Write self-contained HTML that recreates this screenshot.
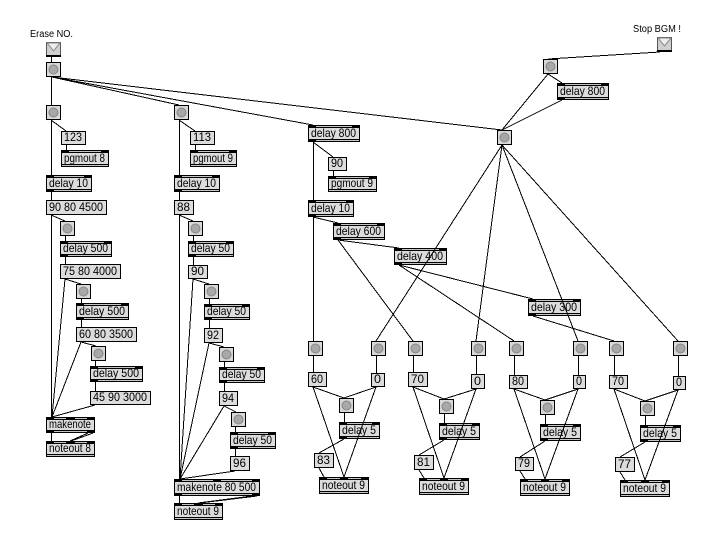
<!DOCTYPE html>
<html>
<head>
<meta charset="utf-8">
<style>
html,body{margin:0;padding:0;background:#fff;}
svg{display:block;}
.o{fill:#dcdcdc;stroke:#000;stroke-width:1;}
.k{fill:#000;}
.h{fill:#c4c4c4;}
.b{fill:#d8d8d8;stroke:#000;stroke-width:1;}
.c{fill:#a8a8a8;stroke:#858585;stroke-width:1;shape-rendering:auto;}
text{font-family:"Liberation Sans",sans-serif;font-size:12px;fill:#000;}
.ln line{stroke:#000;stroke-width:1;}
</style>
</head>
<body>
<svg width="723" height="543" viewBox="0 0 723 543" shape-rendering="crispEdges" xmlns="http://www.w3.org/2000/svg">
<rect x="0" y="0" width="723" height="543" fill="#fff"/>

<!-- labels -->
<text x="30" y="37" style="font-size:10px" textLength="43" lengthAdjust="spacingAndGlyphs">Erase NO.</text>
<text x="633" y="32" style="font-size:10px" textLength="48" lengthAdjust="spacingAndGlyphs">Stop BGM !</text>

<!-- buttons with triangle -->
<g>
<rect x="46.5" y="42.5" width="14" height="14" fill="#cfcfcf" stroke="#555"/>
<polygon points="47,43 60,43 53.5,51" fill="#eeeeee" stroke="#8a8a8a" shape-rendering="auto"/>
<rect class="k" x="46" y="55" width="15" height="2"/>
</g>
<g>
<rect x="657.5" y="37.5" width="14" height="14" fill="#cfcfcf" stroke="#555"/>
<polygon points="658,38 671,38 664.5,46" fill="#eeeeee" stroke="#8a8a8a" shape-rendering="auto"/>
<rect class="k" x="657" y="50" width="15" height="2"/>
</g>

<!-- objects -->
<rect class="o" x="61.5" y="150.5" width="47" height="16"/><rect class="k" x="61" y="150" width="48" height="3"/><rect class="h" x="69" y="151" width="32" height="1"/><rect class="k" x="61" y="164" width="48" height="3"/><rect class="h" x="62" y="165" width="46" height="1"/>
<text x="64" y="162" textLength="41" lengthAdjust="spacingAndGlyphs">pgmout 8</text>

<rect class="o" x="46.5" y="175.5" width="45" height="16"/><rect class="k" x="46" y="175" width="46" height="3"/><rect class="h" x="54" y="176" width="30" height="1"/><rect class="k" x="46" y="189" width="46" height="3"/><rect class="h" x="54" y="190" width="37" height="1"/>
<text x="49" y="187" textLength="39" lengthAdjust="spacingAndGlyphs">delay 10</text>

<rect class="o" x="60.5" y="241.5" width="51" height="15"/><rect class="k" x="60" y="241" width="52" height="3"/><rect class="h" x="68" y="242" width="36" height="1"/><rect class="k" x="60" y="254" width="52" height="3"/><rect class="h" x="68" y="255" width="43" height="1"/>
<text x="63" y="252" textLength="45" lengthAdjust="spacingAndGlyphs">delay 500</text>

<rect class="o" x="76.5" y="303.5" width="52" height="16"/><rect class="k" x="76" y="303" width="53" height="3"/><rect class="h" x="84" y="304" width="37" height="1"/><rect class="k" x="76" y="317" width="53" height="3"/><rect class="h" x="84" y="318" width="44" height="1"/>
<text x="79" y="315" textLength="46" lengthAdjust="spacingAndGlyphs">delay 500</text>

<rect class="o" x="90.5" y="366.5" width="52" height="15"/><rect class="k" x="90" y="366" width="53" height="3"/><rect class="h" x="98" y="367" width="37" height="1"/><rect class="k" x="90" y="379" width="53" height="3"/><rect class="h" x="98" y="380" width="44" height="1"/>
<text x="93" y="377" textLength="46" lengthAdjust="spacingAndGlyphs">delay 500</text>

<rect class="o" x="46.5" y="417.5" width="48" height="15"/><rect class="k" x="46" y="417" width="49" height="3"/><rect class="h" x="54" y="418" width="12" height="1"/><rect class="h" x="75" y="418" width="12" height="1"/><rect class="k" x="46" y="430" width="49" height="3"/><rect class="h" x="54" y="431" width="33" height="1"/>
<text x="49" y="428" textLength="42" lengthAdjust="spacingAndGlyphs">makenote</text>

<rect class="o" x="46.5" y="441.5" width="48" height="15"/><rect class="k" x="46" y="441" width="49" height="3"/><rect class="h" x="54" y="442" width="12" height="1"/><rect class="h" x="75" y="442" width="12" height="1"/><rect class="k" x="46" y="454" width="49" height="3"/><rect class="h" x="47" y="455" width="47" height="1"/>
<text x="49" y="452" textLength="42" lengthAdjust="spacingAndGlyphs">noteout 8</text>

<rect class="o" x="190.5" y="150.5" width="46" height="16"/><rect class="k" x="190" y="150" width="47" height="3"/><rect class="h" x="198" y="151" width="31" height="1"/><rect class="k" x="190" y="164" width="47" height="3"/><rect class="h" x="191" y="165" width="45" height="1"/>
<text x="193" y="162" textLength="40" lengthAdjust="spacingAndGlyphs">pgmout 9</text>

<rect class="o" x="174.5" y="175.5" width="45" height="16"/><rect class="k" x="174" y="175" width="46" height="3"/><rect class="h" x="182" y="176" width="30" height="1"/><rect class="k" x="174" y="189" width="46" height="3"/><rect class="h" x="182" y="190" width="37" height="1"/>
<text x="177" y="187" textLength="39" lengthAdjust="spacingAndGlyphs">delay 10</text>

<rect class="o" x="188.5" y="241.5" width="45" height="15"/><rect class="k" x="188" y="241" width="46" height="3"/><rect class="h" x="196" y="242" width="30" height="1"/><rect class="k" x="188" y="254" width="46" height="3"/><rect class="h" x="196" y="255" width="37" height="1"/>
<text x="191" y="252" textLength="39" lengthAdjust="spacingAndGlyphs">delay 50</text>

<rect class="o" x="204.5" y="304.5" width="45" height="15"/><rect class="k" x="204" y="304" width="46" height="3"/><rect class="h" x="212" y="305" width="30" height="1"/><rect class="k" x="204" y="317" width="46" height="3"/><rect class="h" x="212" y="318" width="37" height="1"/>
<text x="207" y="315" textLength="39" lengthAdjust="spacingAndGlyphs">delay 50</text>

<rect class="o" x="219.5" y="367.5" width="45" height="15"/><rect class="k" x="219" y="367" width="46" height="3"/><rect class="h" x="227" y="368" width="30" height="1"/><rect class="k" x="219" y="380" width="46" height="3"/><rect class="h" x="227" y="381" width="37" height="1"/>
<text x="222" y="378" textLength="39" lengthAdjust="spacingAndGlyphs">delay 50</text>

<rect class="o" x="230.5" y="432.5" width="45" height="16"/><rect class="k" x="230" y="432" width="46" height="3"/><rect class="h" x="238" y="433" width="30" height="1"/><rect class="k" x="230" y="446" width="46" height="3"/><rect class="h" x="238" y="447" width="37" height="1"/>
<text x="233" y="444" textLength="39" lengthAdjust="spacingAndGlyphs">delay 50</text>

<rect class="o" x="174.5" y="479.5" width="85" height="16"/><rect class="k" x="174" y="479" width="86" height="3"/><rect class="h" x="182" y="480" width="31" height="1"/><rect class="h" x="221" y="480" width="31" height="1"/><rect class="k" x="174" y="493" width="86" height="3"/><rect class="h" x="182" y="494" width="70" height="1"/>
<text x="177" y="491" textLength="79" lengthAdjust="spacingAndGlyphs">makenote 80 500</text>

<rect class="o" x="174.5" y="503.5" width="48" height="16"/><rect class="k" x="174" y="503" width="49" height="3"/><rect class="h" x="182" y="504" width="12" height="1"/><rect class="h" x="203" y="504" width="12" height="1"/><rect class="k" x="174" y="517" width="49" height="3"/><rect class="h" x="175" y="518" width="47" height="1"/>
<text x="177" y="515" textLength="42" lengthAdjust="spacingAndGlyphs">noteout 9</text>

<rect class="o" x="308.5" y="125.5" width="51" height="16"/><rect class="k" x="308" y="125" width="52" height="3"/><rect class="h" x="316" y="126" width="36" height="1"/><rect class="k" x="308" y="139" width="52" height="3"/><rect class="h" x="316" y="140" width="43" height="1"/>
<text x="311" y="137" textLength="45" lengthAdjust="spacingAndGlyphs">delay 800</text>

<rect class="o" x="328.5" y="176.5" width="48" height="15"/><rect class="k" x="328" y="176" width="49" height="3"/><rect class="h" x="336" y="177" width="33" height="1"/><rect class="k" x="328" y="189" width="49" height="3"/><rect class="h" x="329" y="190" width="47" height="1"/>
<text x="331" y="187" textLength="42" lengthAdjust="spacingAndGlyphs">pgmout 9</text>

<rect class="o" x="308.5" y="200.5" width="45" height="16"/><rect class="k" x="308" y="200" width="46" height="3"/><rect class="h" x="316" y="201" width="30" height="1"/><rect class="k" x="308" y="214" width="46" height="3"/><rect class="h" x="316" y="215" width="37" height="1"/>
<text x="311" y="212" textLength="39" lengthAdjust="spacingAndGlyphs">delay 10</text>

<rect class="o" x="333.5" y="223.5" width="51" height="16"/><rect class="k" x="333" y="223" width="52" height="3"/><rect class="h" x="341" y="224" width="36" height="1"/><rect class="k" x="333" y="237" width="52" height="3"/><rect class="h" x="341" y="238" width="43" height="1"/>
<text x="336" y="235" textLength="45" lengthAdjust="spacingAndGlyphs">delay 600</text>

<rect class="o" x="394.5" y="248.5" width="52" height="16"/><rect class="k" x="394" y="248" width="53" height="3"/><rect class="h" x="402" y="249" width="37" height="1"/><rect class="k" x="394" y="262" width="53" height="3"/><rect class="h" x="402" y="263" width="44" height="1"/>
<text x="397" y="260" textLength="46" lengthAdjust="spacingAndGlyphs">delay 400</text>

<rect class="o" x="528.5" y="299.5" width="52" height="16"/><rect class="k" x="528" y="299" width="53" height="3"/><rect class="h" x="536" y="300" width="37" height="1"/><rect class="k" x="528" y="313" width="53" height="3"/><rect class="h" x="536" y="314" width="44" height="1"/>
<text x="531" y="311" textLength="46" lengthAdjust="spacingAndGlyphs">delay 300</text>

<rect class="o" x="557.5" y="83.5" width="51" height="16"/><rect class="k" x="557" y="83" width="52" height="3"/><rect class="h" x="565" y="84" width="36" height="1"/><rect class="k" x="557" y="97" width="52" height="3"/><rect class="h" x="565" y="98" width="43" height="1"/>
<text x="560" y="95" textLength="45" lengthAdjust="spacingAndGlyphs">delay 800</text>

<!-- delay 5 x4 -->
<rect class="o" x="339.5" y="422.5" width="40" height="16"/><rect class="k" x="339" y="422" width="41" height="3"/><rect class="h" x="347" y="423" width="25" height="1"/><rect class="k" x="339" y="436" width="41" height="3"/><rect class="h" x="347" y="437" width="32" height="1"/>
<text x="342" y="434" textLength="34" lengthAdjust="spacingAndGlyphs">delay 5</text>
<rect class="o" x="439.5" y="423.5" width="40" height="16"/><rect class="k" x="439" y="423" width="41" height="3"/><rect class="h" x="447" y="424" width="25" height="1"/><rect class="k" x="439" y="437" width="41" height="3"/><rect class="h" x="447" y="438" width="32" height="1"/>
<text x="442" y="435" textLength="34" lengthAdjust="spacingAndGlyphs">delay 5</text>
<rect class="o" x="540.5" y="424.5" width="40" height="16"/><rect class="k" x="540" y="424" width="41" height="3"/><rect class="h" x="548" y="425" width="25" height="1"/><rect class="k" x="540" y="438" width="41" height="3"/><rect class="h" x="548" y="439" width="32" height="1"/>
<text x="543" y="436" textLength="34" lengthAdjust="spacingAndGlyphs">delay 5</text>
<rect class="o" x="640.5" y="425.5" width="40" height="16"/><rect class="k" x="640" y="425" width="41" height="3"/><rect class="h" x="648" y="426" width="25" height="1"/><rect class="k" x="640" y="439" width="41" height="3"/><rect class="h" x="648" y="440" width="32" height="1"/>
<text x="643" y="437" textLength="34" lengthAdjust="spacingAndGlyphs">delay 5</text>

<!-- noteout 9 x4 -->
<rect class="o" x="319.5" y="477.5" width="49" height="16"/><rect class="k" x="319" y="477" width="50" height="3"/><rect class="h" x="327" y="478" width="13" height="1"/><rect class="h" x="348" y="478" width="13" height="1"/><rect class="k" x="319" y="491" width="50" height="3"/><rect class="h" x="320" y="492" width="48" height="1"/>
<text x="322" y="489" textLength="43" lengthAdjust="spacingAndGlyphs">noteout 9</text>
<rect class="o" x="419.5" y="478.5" width="49" height="16"/><rect class="k" x="419" y="478" width="50" height="3"/><rect class="h" x="427" y="479" width="13" height="1"/><rect class="h" x="448" y="479" width="13" height="1"/><rect class="k" x="419" y="492" width="50" height="3"/><rect class="h" x="420" y="493" width="48" height="1"/>
<text x="422" y="490" textLength="43" lengthAdjust="spacingAndGlyphs">noteout 9</text>
<rect class="o" x="520.5" y="479.5" width="49" height="16"/><rect class="k" x="520" y="479" width="50" height="3"/><rect class="h" x="528" y="480" width="13" height="1"/><rect class="h" x="549" y="480" width="13" height="1"/><rect class="k" x="520" y="493" width="50" height="3"/><rect class="h" x="521" y="494" width="48" height="1"/>
<text x="523" y="491" textLength="43" lengthAdjust="spacingAndGlyphs">noteout 9</text>
<rect class="o" x="620.5" y="480.5" width="49" height="16"/><rect class="k" x="620" y="480" width="50" height="3"/><rect class="h" x="628" y="481" width="13" height="1"/><rect class="h" x="649" y="481" width="13" height="1"/><rect class="k" x="620" y="494" width="50" height="3"/><rect class="h" x="621" y="495" width="48" height="1"/>
<text x="623" y="492" textLength="43" lengthAdjust="spacingAndGlyphs">noteout 9</text>

<!-- messages -->
<rect class="o" x="61.5" y="131.5" width="24" height="13"/><text x="64" y="141" textLength="18" lengthAdjust="spacingAndGlyphs">123</text>
<rect class="o" x="46.5" y="200.5" width="60" height="14"/><text x="49" y="211" textLength="54" lengthAdjust="spacingAndGlyphs">90 80 4500</text>
<rect class="o" x="60.5" y="264.5" width="60" height="14"/><text x="63" y="275" textLength="54" lengthAdjust="spacingAndGlyphs">75 80 4000</text>
<rect class="o" x="76.5" y="327.5" width="60" height="14"/><text x="79" y="338" textLength="54" lengthAdjust="spacingAndGlyphs">60 80 3500</text>
<rect class="o" x="90.5" y="391.5" width="60" height="13"/><text x="93" y="401" textLength="54" lengthAdjust="spacingAndGlyphs">45 90 3000</text>
<rect class="o" x="190.5" y="131.5" width="24" height="13"/><text x="193" y="141" textLength="18" lengthAdjust="spacingAndGlyphs">113</text>
<rect class="o" x="174.5" y="200.5" width="19" height="14"/><text x="177" y="211" textLength="13" lengthAdjust="spacingAndGlyphs">88</text>
<rect class="o" x="188.5" y="265.5" width="19" height="13"/><text x="191" y="275" textLength="13" lengthAdjust="spacingAndGlyphs">90</text>
<rect class="o" x="204.5" y="328.5" width="18" height="14"/><text x="207" y="339" textLength="12" lengthAdjust="spacingAndGlyphs">92</text>
<rect class="o" x="219.5" y="391.5" width="18" height="14"/><text x="222" y="402" textLength="12" lengthAdjust="spacingAndGlyphs">94</text>
<rect class="o" x="230.5" y="456.5" width="19" height="14"/><text x="233" y="467" textLength="13" lengthAdjust="spacingAndGlyphs">96</text>
<rect class="o" x="328.5" y="157.5" width="18" height="13"/><text x="331" y="167" textLength="12" lengthAdjust="spacingAndGlyphs">90</text>

<rect class="o" x="308.5" y="372.5" width="18" height="14"/><text x="311" y="383" textLength="12" lengthAdjust="spacingAndGlyphs">60</text>
<rect class="o" x="371.5" y="373.5" width="13" height="13"/><text x="374" y="383" textLength="7" lengthAdjust="spacingAndGlyphs">0</text>
<rect class="o" x="408.5" y="372.5" width="19" height="14"/><text x="411" y="383" textLength="13" lengthAdjust="spacingAndGlyphs">70</text>
<rect class="o" x="471.5" y="374.5" width="13" height="14"/><text x="474" y="385" textLength="7" lengthAdjust="spacingAndGlyphs">0</text>
<rect class="o" x="509.5" y="375.5" width="18" height="13"/><text x="512" y="385" textLength="12" lengthAdjust="spacingAndGlyphs">80</text>
<rect class="o" x="573.5" y="375.5" width="12" height="13"/><text x="576" y="385" textLength="6" lengthAdjust="spacingAndGlyphs">0</text>
<rect class="o" x="609.5" y="375.5" width="18" height="13"/><text x="612" y="385" textLength="12" lengthAdjust="spacingAndGlyphs">70</text>
<rect class="o" x="673.5" y="376.5" width="12" height="13"/><text x="676" y="386" textLength="6" lengthAdjust="spacingAndGlyphs">0</text>
<rect class="o" x="314.5" y="453.5" width="19" height="14"/><text x="317" y="464" textLength="13" lengthAdjust="spacingAndGlyphs">83</text>
<rect class="o" x="414.5" y="455.5" width="19" height="14"/><text x="417" y="466" textLength="13" lengthAdjust="spacingAndGlyphs">81</text>
<rect class="o" x="515.5" y="457.5" width="18" height="13"/><text x="518" y="467" textLength="12" lengthAdjust="spacingAndGlyphs">79</text>
<rect class="o" x="615.5" y="457.5" width="19" height="14"/><text x="618" y="468" textLength="13" lengthAdjust="spacingAndGlyphs">77</text>

<!-- bangs -->
<rect class="b" x="46.5" y="62.5" width="14" height="14"/><circle class="c" cx="53.5" cy="69.5" r="4.5"/>
<rect class="b" x="46.5" y="105.5" width="14" height="14"/><circle class="c" cx="53.5" cy="112.5" r="4.5"/>
<rect class="b" x="174.5" y="105.5" width="14" height="14"/><circle class="c" cx="181.5" cy="112.5" r="4.5"/>
<rect class="b" x="60.5" y="221.5" width="14" height="14"/><circle class="c" cx="67.5" cy="228.5" r="4.5"/>
<rect class="b" x="76.5" y="284.5" width="14" height="14"/><circle class="c" cx="83.5" cy="291.5" r="4.5"/>
<rect class="b" x="91.5" y="346.5" width="14" height="14"/><circle class="c" cx="98.5" cy="353.5" r="4.5"/>
<rect class="b" x="188.5" y="221.5" width="14" height="14"/><circle class="c" cx="195.5" cy="228.5" r="4.5"/>
<rect class="b" x="204.5" y="284.5" width="14" height="14"/><circle class="c" cx="211.5" cy="291.5" r="4.5"/>
<rect class="b" x="219.5" y="347.5" width="14" height="14"/><circle class="c" cx="226.5" cy="354.5" r="4.5"/>
<rect class="b" x="231.5" y="412.5" width="14" height="14"/><circle class="c" cx="238.5" cy="419.5" r="4.5"/>
<rect class="b" x="543.5" y="59.5" width="14" height="14"/><circle class="c" cx="550.5" cy="66.5" r="4.5"/>
<rect class="b" x="497.5" y="130.5" width="14" height="14"/><circle class="c" cx="504.5" cy="137.5" r="4.5"/>
<rect class="b" x="308.5" y="341.5" width="14" height="14"/><circle class="c" cx="315.5" cy="348.5" r="4.5"/>
<rect class="b" x="371.5" y="341.5" width="14" height="14"/><circle class="c" cx="378.5" cy="348.5" r="4.5"/>
<rect class="b" x="408.5" y="341.5" width="14" height="14"/><circle class="c" cx="415.5" cy="348.5" r="4.5"/>
<rect class="b" x="471.5" y="341.5" width="14" height="14"/><circle class="c" cx="478.5" cy="348.5" r="4.5"/>
<rect class="b" x="509.5" y="341.5" width="14" height="14"/><circle class="c" cx="516.5" cy="348.5" r="4.5"/>
<rect class="b" x="573.5" y="341.5" width="14" height="14"/><circle class="c" cx="580.5" cy="348.5" r="4.5"/>
<rect class="b" x="609.5" y="341.5" width="14" height="14"/><circle class="c" cx="616.5" cy="348.5" r="4.5"/>
<rect class="b" x="673.5" y="341.5" width="14" height="14"/><circle class="c" cx="680.5" cy="348.5" r="4.5"/>
<rect class="b" x="339.5" y="398.5" width="14" height="14"/><circle class="c" cx="346.5" cy="405.5" r="4.5"/>
<rect class="b" x="439.5" y="399.5" width="14" height="14"/><circle class="c" cx="446.5" cy="406.5" r="4.5"/>
<rect class="b" x="540.5" y="400.5" width="14" height="14"/><circle class="c" cx="547.5" cy="407.5" r="4.5"/>
<rect class="b" x="640.5" y="401.5" width="14" height="14"/><circle class="c" cx="647.5" cy="408.5" r="4.5"/>

<!-- connections -->
<g class="ln">
<line x1="51.5" y1="57" x2="51.5" y2="62"/>
<line x1="51.5" y1="77" x2="51.5" y2="105"/>
<line x1="52" y1="77" x2="179" y2="105"/>
<line x1="52" y1="77" x2="313" y2="125"/>
<line x1="52" y1="77" x2="502" y2="130"/>
<line x1="51.5" y1="120" x2="51.5" y2="175"/>
<line x1="51" y1="120" x2="66" y2="131"/>
<line x1="66.5" y1="145" x2="66.5" y2="150"/>
<line x1="51.5" y1="192" x2="51.5" y2="200"/>
<line x1="51.5" y1="215" x2="51.5" y2="417"/>
<line x1="51" y1="215" x2="65" y2="221"/>
<line x1="65.5" y1="236" x2="65.5" y2="241"/>
<line x1="65.5" y1="257" x2="65.5" y2="264"/>
<line x1="65" y1="279" x2="81" y2="284"/>
<line x1="65" y1="279" x2="52" y2="417"/>
<line x1="81.5" y1="299" x2="81.5" y2="303"/>
<line x1="81.5" y1="320" x2="81.5" y2="327"/>
<line x1="81" y1="342" x2="96" y2="346"/>
<line x1="81" y1="342" x2="52" y2="417"/>
<line x1="95.5" y1="361" x2="95.5" y2="366"/>
<line x1="95.5" y1="382" x2="95.5" y2="391"/>
<line x1="95" y1="405" x2="52" y2="417"/>
<line x1="51.5" y1="433" x2="51.5" y2="441"/>
<line x1="93" y1="433" x2="71" y2="441"/>
<line x1="88" y1="433" x2="70" y2="441"/>

<line x1="179.5" y1="120" x2="179.5" y2="175"/>
<line x1="179" y1="120" x2="195" y2="131"/>
<line x1="195.5" y1="145" x2="195.5" y2="150"/>
<line x1="179.5" y1="192" x2="179.5" y2="200"/>
<line x1="179.5" y1="215" x2="179.5" y2="479"/>
<line x1="179" y1="215" x2="193" y2="221"/>
<line x1="193.5" y1="236" x2="193.5" y2="241"/>
<line x1="193.5" y1="257" x2="193.5" y2="265"/>
<line x1="193" y1="279" x2="209" y2="284"/>
<line x1="193" y1="279" x2="180" y2="479"/>
<line x1="209.5" y1="299" x2="209.5" y2="304"/>
<line x1="209.5" y1="320" x2="209.5" y2="328"/>
<line x1="209" y1="343" x2="224" y2="347"/>
<line x1="209" y1="343" x2="180" y2="479"/>
<line x1="224.5" y1="362" x2="224.5" y2="367"/>
<line x1="224.5" y1="383" x2="224.5" y2="391"/>
<line x1="224" y1="406" x2="236" y2="412"/>
<line x1="224" y1="406" x2="180" y2="479"/>
<line x1="235.5" y1="427" x2="235.5" y2="432"/>
<line x1="235.5" y1="449" x2="235.5" y2="456"/>
<line x1="235" y1="471" x2="180" y2="479"/>
<line x1="179.5" y1="496" x2="179.5" y2="503"/>
<line x1="257" y1="496" x2="200" y2="503"/>
<line x1="252" y1="496" x2="198" y2="503"/>

<line x1="313" y1="142" x2="333" y2="157"/>
<line x1="313.5" y1="142" x2="313.5" y2="200"/>
<line x1="333.5" y1="171" x2="333.5" y2="176"/>
<line x1="313" y1="217" x2="338" y2="223"/>
<line x1="313.5" y1="217" x2="313.5" y2="341"/>
<line x1="338" y1="240" x2="399" y2="248"/>
<line x1="338" y1="240" x2="413" y2="341"/>
<line x1="399" y1="265" x2="533" y2="299"/>
<line x1="399" y1="265" x2="514" y2="341"/>
<line x1="533" y1="316" x2="614" y2="341"/>
<line x1="502" y1="145" x2="376" y2="341"/>
<line x1="502" y1="145" x2="476" y2="341"/>
<line x1="502" y1="145" x2="578" y2="341"/>
<line x1="502" y1="145" x2="678" y2="341"/>
<line x1="660" y1="52" x2="548" y2="59"/>
<line x1="548" y1="74" x2="562" y2="83"/>
<line x1="548" y1="74" x2="502" y2="130"/>
<line x1="562" y1="100" x2="502" y2="130"/>

<line x1="313.5" y1="356" x2="313.5" y2="372"/>
<line x1="376.5" y1="356" x2="376.5" y2="373"/>
<line x1="313" y1="387" x2="344" y2="398"/>
<line x1="376" y1="387" x2="344" y2="398"/>
<line x1="313" y1="387" x2="344" y2="477"/>
<line x1="376" y1="387" x2="344" y2="477"/>
<line x1="344.5" y1="413" x2="344.5" y2="422"/>
<line x1="344" y1="439" x2="319" y2="453"/>
<line x1="319" y1="468" x2="324" y2="477"/>

<line x1="413.5" y1="356" x2="413.5" y2="372"/>
<line x1="476.5" y1="356" x2="476.5" y2="374"/>
<line x1="413" y1="387" x2="444" y2="399"/>
<line x1="476" y1="389" x2="444" y2="399"/>
<line x1="413" y1="387" x2="444" y2="478"/>
<line x1="476" y1="389" x2="444" y2="478"/>
<line x1="444.5" y1="414" x2="444.5" y2="423"/>
<line x1="444" y1="440" x2="419" y2="455"/>
<line x1="419" y1="470" x2="424" y2="478"/>

<line x1="514.5" y1="356" x2="514.5" y2="375"/>
<line x1="578.5" y1="356" x2="578.5" y2="375"/>
<line x1="514" y1="389" x2="545" y2="400"/>
<line x1="578" y1="389" x2="545" y2="400"/>
<line x1="514" y1="389" x2="545" y2="479"/>
<line x1="578" y1="389" x2="545" y2="479"/>
<line x1="545.5" y1="415" x2="545.5" y2="424"/>
<line x1="545" y1="441" x2="520" y2="457"/>
<line x1="520" y1="471" x2="525" y2="479"/>

<line x1="614.5" y1="356" x2="614.5" y2="375"/>
<line x1="678.5" y1="356" x2="678.5" y2="376"/>
<line x1="614" y1="389" x2="645" y2="401"/>
<line x1="678" y1="390" x2="645" y2="401"/>
<line x1="614" y1="389" x2="645" y2="480"/>
<line x1="678" y1="390" x2="645" y2="480"/>
<line x1="645.5" y1="416" x2="645.5" y2="425"/>
<line x1="645" y1="442" x2="620" y2="457"/>
<line x1="620" y1="472" x2="625" y2="480"/>
</g>
</svg>
</body>
</html>
